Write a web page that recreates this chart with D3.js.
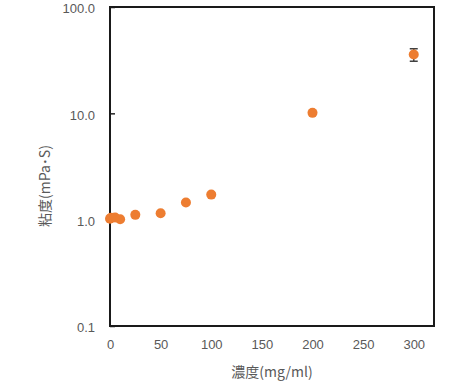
<!DOCTYPE html>
<html>
<head>
<meta charset="utf-8">
<script src="https://cdn.jsdelivr.net/npm/d3@7"></script>
<style>
  body { margin: 0; background: #fff; }
  text { font-family: "Noto Sans CJK JP", "Noto Sans", sans-serif; }
  .tick text { font-family: "Liberation Sans", Arial, sans-serif; }
</style>
</head>
<body>
<div id="chart"></div>
<script>
// concentration (mg/ml) vs viscosity (mPa·S)
const concentration = [0, 1, 5, 10, 25, 50, 75, 100, 200, 300];
const viscosity = [1.02, 1.04, 1.05, 1.01, 1.11, 1.15, 1.45, 1.72, 10.1, 35.7];
const errorBar = [0, 0, 0, 0, 0, 0, 0, 0, 0, 4.8];
const xTicks = [0, 50, 100, 150, 200, 250, 300];
const yTicks = [0.1, 1, 10, 100];

const width = 464;
const height = 384;
const plot = {left: 110, right: 434, top: 7, bottom: 326};

const svg = d3.select("#chart")
    .append("svg")
    .attr("width", width)
    .attr("height", height);

const x = d3.scaleLinear()
    .domain([0, 320])
    .range([plot.left, plot.right]);
const y = d3.scaleLog()
    .domain([0.1, 100])
    .range([plot.bottom, plot.top]);

// y axis (ticks point inward)
const yAxis = svg.append("g")
    .attr("transform", `translate(${plot.left}, 0)`)
    .call(d3.axisLeft(y)
        .tickValues(yTicks)
        .tickFormat(d3.format(".1f"))
        .tickSizeInner(-5)
        .tickSizeOuter(0)
        .tickPadding(15));
yAxis.select(".domain").remove();
yAxis.selectAll("line").attr("stroke", "#222").attr("stroke-width", 1.5);
yAxis.selectAll("text")
    .attr("fill", "#595959")
    .attr("dy", "0.45em")
    .style("font-size", "13px");

// x axis
const xAxis = svg.append("g")
    .attr("transform", `translate(0, ${plot.bottom})`)
    .call(d3.axisBottom(x)
        .tickValues(xTicks)
        .tickSize(0)
        .tickPadding(14));
xAxis.select(".domain").remove();
xAxis.selectAll("text").attr("fill", "#595959").style("font-size", "13px");

// plot frame
svg.append("rect")
    .attr("x", plot.left)
    .attr("y", plot.top)
    .attr("width", plot.right - plot.left)
    .attr("height", plot.bottom - plot.top)
    .attr("fill", "none")
    .attr("stroke", "#1a1a1a")
    .attr("stroke-width", 2);

const points = concentration.map((c, i) => ({c: c, v: viscosity[i], e: errorBar[i]}));

// error bars
const eb = svg.selectAll(".err")
    .data(points.filter(d => d.e > 0))
    .enter()
    .append("g")
    .attr("stroke", "#404040")
    .attr("stroke-width", 1.5);
eb.append("line")
    .attr("x1", d => x(d.c)).attr("x2", d => x(d.c))
    .attr("y1", d => y(d.v + d.e)).attr("y2", d => y(d.v - d.e));
eb.append("line")
    .attr("x1", d => x(d.c) - 4).attr("x2", d => x(d.c) + 4)
    .attr("y1", d => y(d.v + d.e)).attr("y2", d => y(d.v + d.e));
eb.append("line")
    .attr("x1", d => x(d.c) - 4).attr("x2", d => x(d.c) + 4)
    .attr("y1", d => y(d.v - d.e)).attr("y2", d => y(d.v - d.e));

// markers
svg.selectAll(".pt")
    .data(points)
    .enter()
    .append("circle")
    .attr("class", "pt")
    .attr("cx", d => x(d.c))
    .attr("cy", d => y(d.v))
    .attr("r", 5)
    .attr("fill", "#ED7D31");

// axis titles
svg.append("text")
    .attr("x", (plot.left + plot.right) / 2)
    .attr("y", 377)
    .attr("text-anchor", "middle")
    .attr("fill", "#595959")
    .style("font-size", "14px")
    .text("濃度(mg/ml)");

svg.append("text")
    .attr("transform", "translate(50, 186) rotate(-90)")
    .attr("text-anchor", "middle")
    .attr("fill", "#595959")
    .style("font-size", "14px")
    .text("粘度(mPa･S)");
</script>
</body>
</html>
